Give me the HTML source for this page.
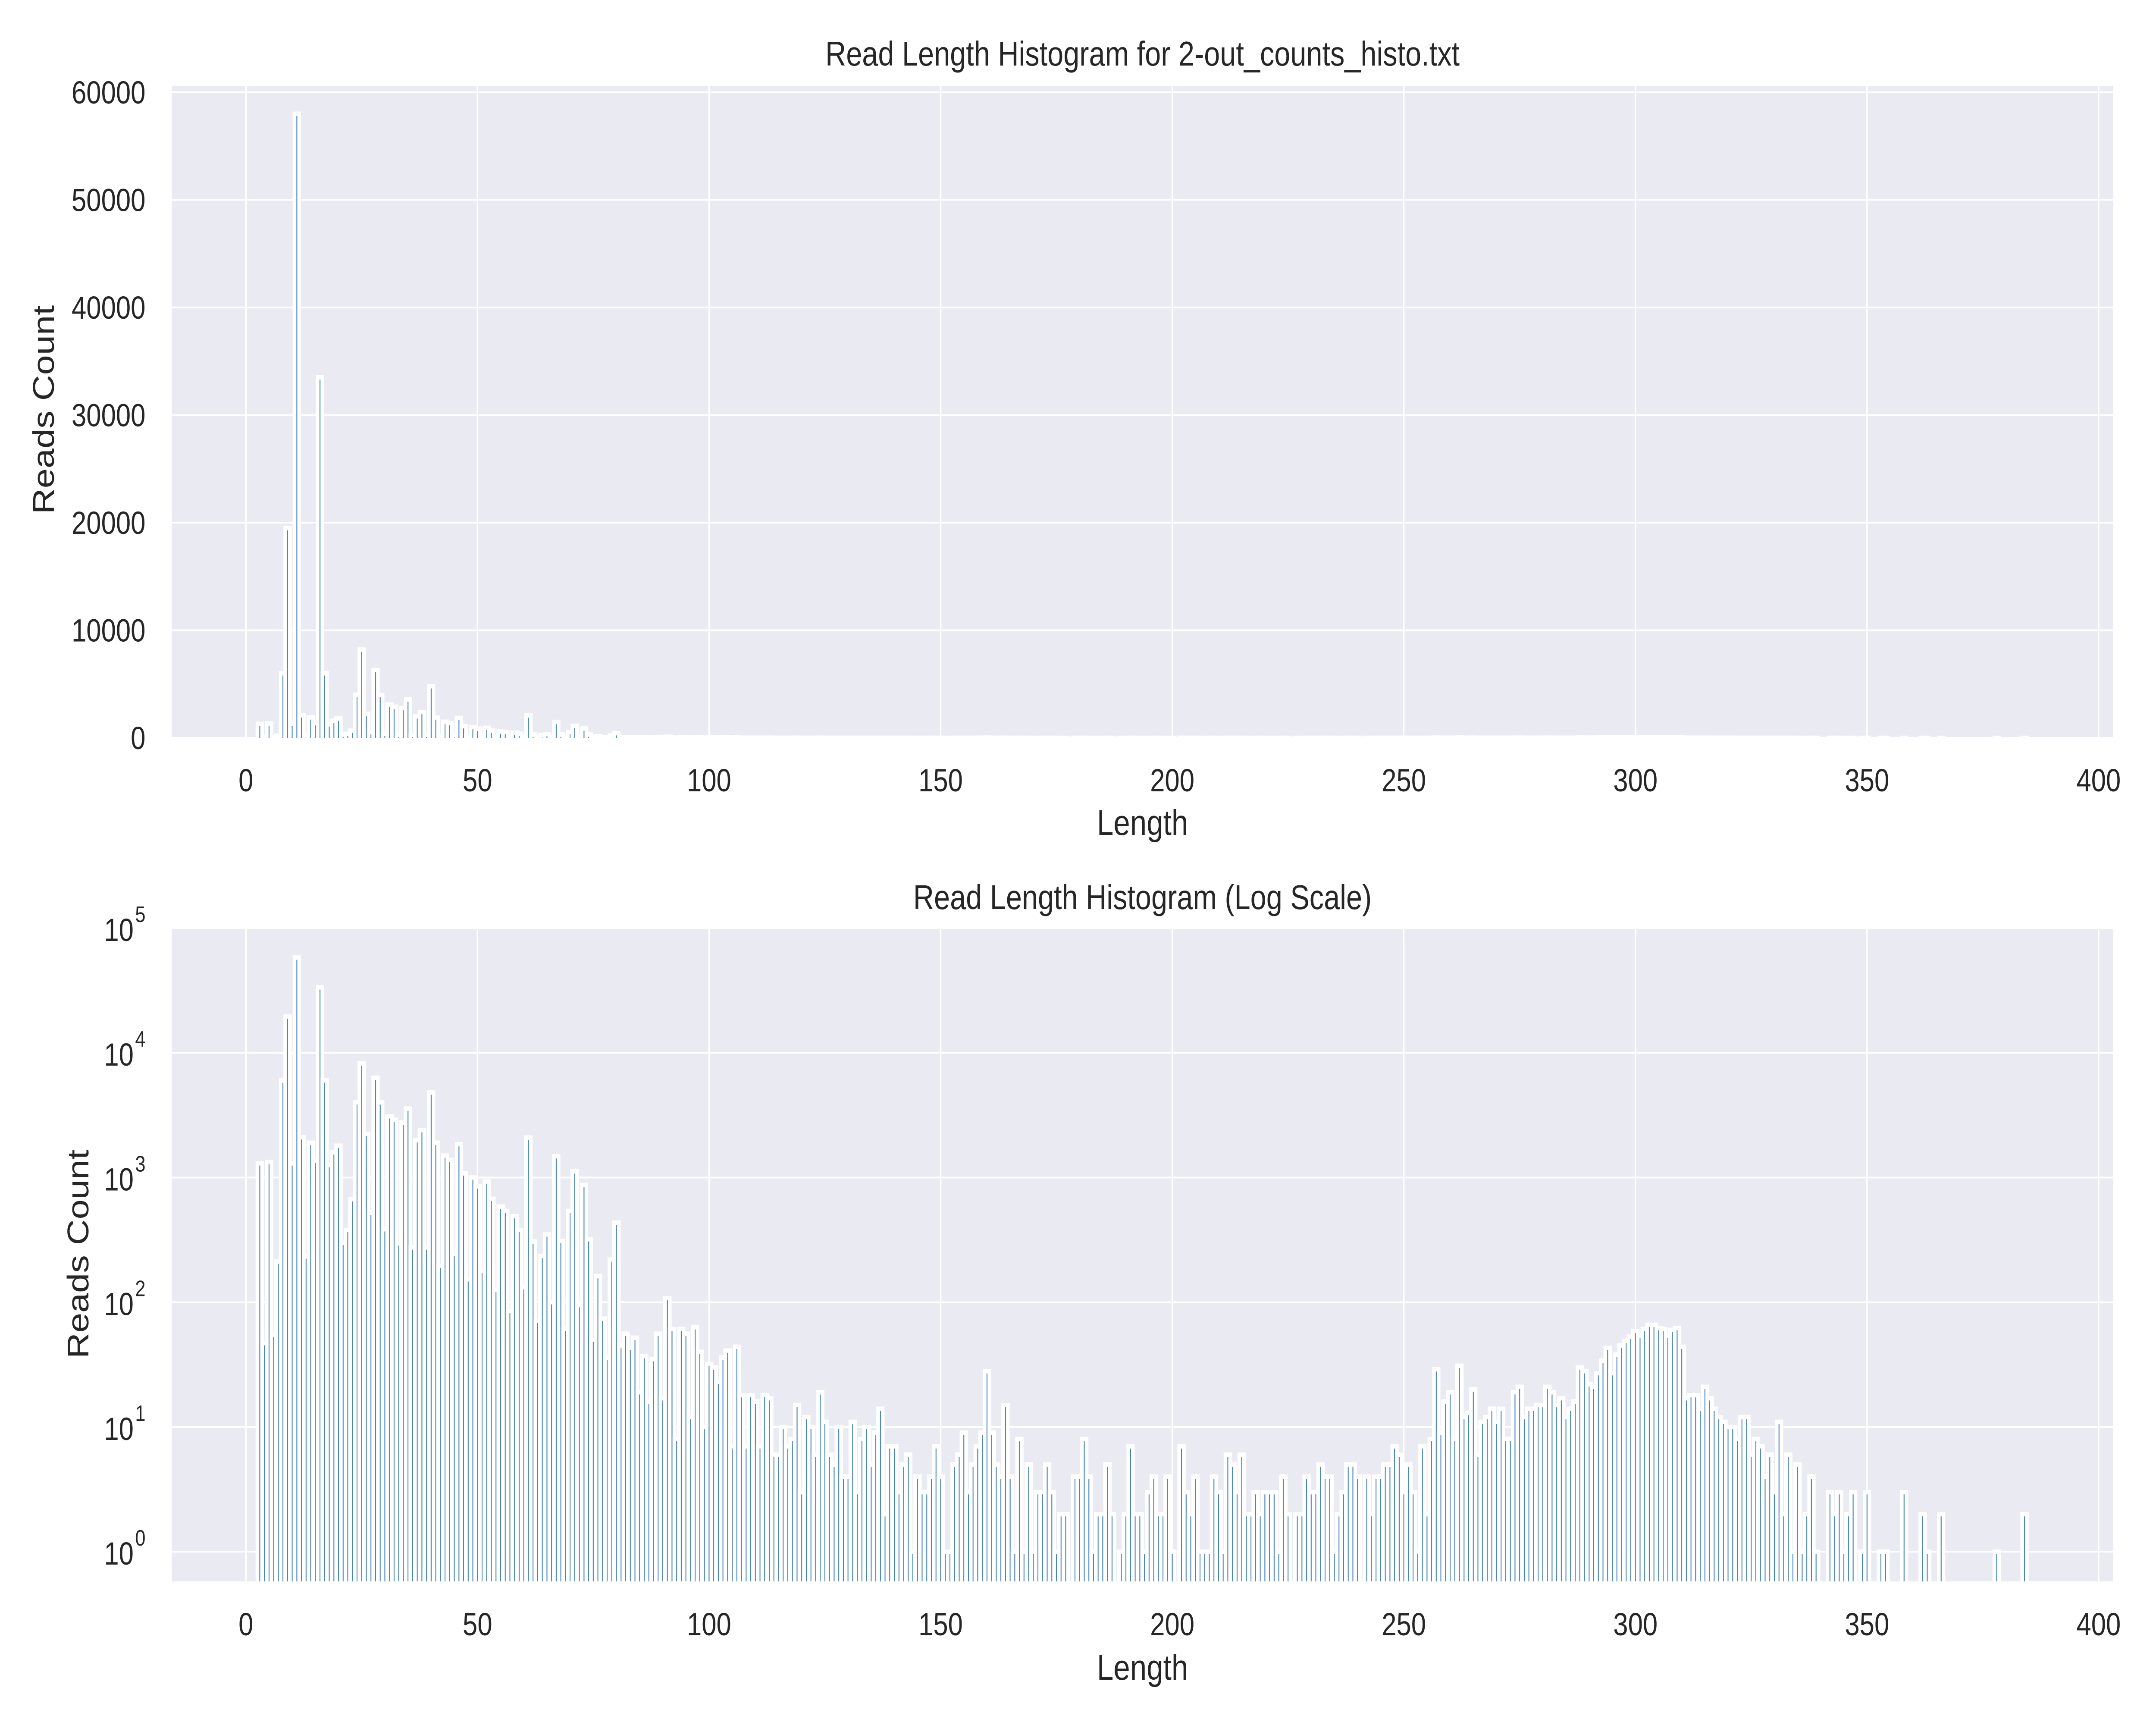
<!DOCTYPE html>
<html><head><meta charset="utf-8"><style>
html,body{margin:0;padding:0;background:#fff;width:100%;height:100%;overflow:hidden;}
svg{display:block;width:100vw;height:100vh;}
text{font-family:"Liberation Sans",Arial,sans-serif;fill:#262626;}
</style></head>
<body>
<svg id="chart" xmlns="http://www.w3.org/2000/svg" viewBox="0 0 6000 4000" preserveAspectRatio="none">
<rect width="6000" height="4000" fill="#ffffff"/>
</svg>
<script>
// ---- data ----
const lengths = [];
for (let i = 3; i <= 384; i++) lengths.push(i);
const counts = [
1300,47,1330,55,212,6000,19500,1300,58000,2100,233,1900,1370,33500,6000,1260,1590,1800,300,380,670,4000,8200,2240,520,6300,4000,385,3100,2900,297,2760,3570,275,1990,2400,275,4800,1900,195,1500,1380,245,1850,1080,153,1000,850,
179,930,675,126,585,540,85,490,380,132,2090,307,71,235,350,100,1480,310,61,540,1120,95,870,320,50,162,74,36,220,435,45,56,43,52,19,37,16,35,56,17,108,61,8,61,56,12,63,40,10,32,
30,23,36,41,7,44,18,7,18,16,7,18,17,6,6,10,7,8,15,3,12,10,6,19,11,6,5,10,4,4,11,3,8,10,5,9,14,2,7,7,3,5,6,1,4,3,3,4,7,4,
1,1,5,6,9,3,5,7,9,28,9,5,4,15,4,1,8,1,5,1,3,3,5,3,1,2,2,0,4,4,8,4,1,2,2,5,2,0,1,2,7,2,2,1,3,4,2,2,4,1,
0,7,3,2,4,1,1,1,4,3,1,6,5,3,6,2,2,3,2,3,3,3,1,4,2,0,2,2,4,3,3,5,4,4,1,2,3,5,5,4,0,4,2,4,4,5,5,7,6,3,
5,3,1,7,2,8,29,9,16,19,8,31,12,13,20,6,11,12,14,11,14,8,8,19,21,12,14,14,15,15,21,19,15,17,12,14,16,30,28,22,21,27,34,43,27,38,45,49,53,59,
54,61,66,66,62,61,54,60,62,44,17,18,18,14,21,17,14,12,11,10,10,8,12,12,6,8,7,4,6,3,11,2,6,1,5,1,2,4,1,0,0,3,2,3,1,2,3,0,1,3,
0,0,1,1,0,0,0,3,0,0,0,2,1,0,0,2,0,0,0,0,0,0,0,0,0,0,0,1,0,0,0,0,0,2
];
const xTicks = [0,50,100,150,200,250,300,350,400];
const yTicksLinear = [0,10000,20000,30000,40000,50000,60000];
const yTicksLogExp = [0,1,2,3,4,5];

// ---- layout ----
const NS = "http://www.w3.org/2000/svg";
const svg = document.getElementById('chart');
const AX_L = 478, AX_R = 5881;
const X0 = 684.3, XS = 12.89;
const X = u => X0 + XS * u;
const topP = {t:199, b:1711, ymax:60600};
const botP = {t:2152, b:3667, lo:-0.238, hi:5.0};
const YL = v => topP.b - (v / topP.ymax) * (topP.b - topP.t);
const YG = v => botP.b - ((Math.log10(v) - botP.lo) / (botP.hi - botP.lo)) * (botP.b - botP.t);
const BAR = '#4a86b8';

function el(tag, attrs, parent){ const e=document.createElementNS(NS,tag); for(const k in attrs) e.setAttribute(k,attrs[k]); (parent||svg).appendChild(e); return e; }

const defs = el('defs',{});
function panel(p, id, name){
  const cp = el('clipPath',{id:id},defs);
  el('rect',{x:AX_L,y:p.t,width:AX_R-AX_L,height:p.b-p.t},cp);
  const bg = el('rect',{x:AX_L,y:p.t,width:AX_R-AX_L,height:p.b-p.t,fill:'#eaeaf2'});
  
  
  const g = el('g',{'clip-path':'url(#'+id+')'});
  
  
  return g;
}

// ---- top panel ----
const gTop = panel(topP,'clipTop','linear');
xTicks.forEach(t=>{
  const l = el('line',{x1:X(t),x2:X(t),y1:topP.t,y2:topP.b,stroke:'#fff','stroke-width':4},gTop);
  
  
});
yTicksLinear.forEach(t=>{
  const l = el('line',{x1:AX_L,x2:AX_R,y1:YL(t),y2:YL(t),stroke:'#fff','stroke-width':4},gTop);
  
  
  const tx = el('text',{x:405,y:YL(t)+26,'text-anchor':'end','font-size':74});
  tx.textContent = String(t);
  
  
});
lengths.forEach((len,i)=>{
  const v = counts[i]; if(!v) return;
  const y = YL(v);
  const r = el('rect',{x:X(len-0.5),y:y,width:XS,height:topP.b+20-y,fill:BAR,stroke:'#fff','stroke-width':10.3},gTop);
  
  
});
xTicks.forEach(t=>{
  const tx = el('text',{x:X(t),y:1835,'text-anchor':'middle','font-size':74});
  tx.textContent = String(t);
  
  
});

// ---- bottom panel ----
const gBot = panel(botP,'clipBot','log');
xTicks.forEach(t=>{
  const l = el('line',{x1:X(t),x2:X(t),y1:botP.t,y2:botP.b,stroke:'#fff','stroke-width':4},gBot);
  
  
});
yTicksLogExp.forEach(e=>{
  const y = YG(Math.pow(10,e));
  const l = el('line',{x1:AX_L,x2:AX_R,y1:y,y2:y,stroke:'#fff','stroke-width':4},gBot);
  
  
  const tx = el('text',{x:372,y:y+30,'text-anchor':'end','font-size':74});
  tx.textContent = '10';
  
  
  const sup = el('text',{x:376,y:y-14,'text-anchor':'start','font-size':52});
  sup.textContent = String(e);
  
  
});
lengths.forEach((len,i)=>{
  const v = counts[i]; if(!v) return;
  const y = YG(v);
  const r = el('rect',{x:X(len-0.5),y:y,width:XS,height:botP.b+20-y,fill:BAR,stroke:'#fff','stroke-width':10.3},gBot);
  
  
});
xTicks.forEach(t=>{
  const tx = el('text',{x:X(t),y:3792,'text-anchor':'middle','font-size':74});
  tx.textContent = String(t);
  
  
});

// ---- titles & labels ----
const CX = (AX_L+AX_R)/2;
function label(txt,x,y,size,name,rot){
  const a = {x:x,y:y,'text-anchor':'middle','font-size':size};
  if(rot) a.transform = 'rotate(-90 '+x+' '+y+')';
  const t = el('text',a); t.textContent = txt;
  
  
}
label('Read Length Histogram for 2-out_counts_histo.txt',CX,152,80,'top-chart-title');
label('Length',CX,1936,83,'top-x-axis-title');
label('Reads Count',150,950,83,'top-y-axis-title',true);
label('Read Length Histogram (Log Scale)',CX,2108,80,'bottom-chart-title');
label('Length',CX,3895,83,'bottom-x-axis-title');
label('Reads Count',246,2908,83,'bottom-y-axis-title',true);
</script>
</body></html>
